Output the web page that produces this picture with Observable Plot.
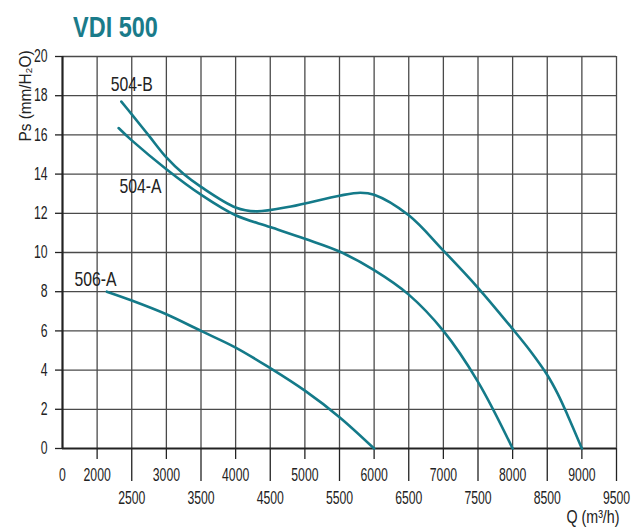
<!DOCTYPE html>
<html>
<head>
<meta charset="utf-8">
<script src="https://cdn.jsdelivr.net/npm/d3@7"></script>
<script src="https://cdn.jsdelivr.net/npm/@observablehq/plot@0.6"></script>
<style>
  body { margin: 0; background: #fff; }
  #wrap { position: relative; width: 631px; height: 529px; overflow: hidden; }
  #title { position: absolute; left: 73px; top: 13px; font-family: "Liberation Sans", Arial, sans-serif; font-weight: bold; font-size: 29px; line-height: 29px; color: #1a7b8a; transform: scaleX(0.81); transform-origin: left top; white-space: nowrap; }
  #chart { position: absolute; left: 0; top: 0; }
</style>
</head>
<body>
<div id="wrap"><div id="chart"></div><div id="title">VDI 500</div></div>
<script>
// Series data (Q in m³/h, Ps in mm H2O)
const q504B = [2350, 2500, 2750, 3000, 3250, 3500, 4000, 4300, 4800, 5500, 5800, 6000, 6500, 7000, 7500, 8000, 8250, 8500, 8650, 8800, 9000];
const p504B = [17.7, 17.05, 15.95, 14.85, 14.0, 13.35, 12.3, 12.1, 12.35, 12.9, 13.05, 12.95, 11.9, 10.1, 8.2, 6.1, 5.0, 3.75, 2.8, 1.65, 0];
const q504A = [2310, 2500, 3000, 3500, 4000, 4500, 5000, 5500, 6000, 6500, 7000, 7500, 8000];
const p504A = [16.35, 15.72, 14.25, 12.95, 11.9, 11.3, 10.7, 10.05, 9.1, 7.85, 6.0, 3.4, 0];
const q506A = [2140, 2500, 3000, 3500, 4000, 4500, 5000, 5500, 6000];
const p506A = [8.0, 7.55, 6.85, 6.0, 5.15, 4.1, 2.95, 1.6, 0];

const seriesNames = ["504-B", "504-A", "506-A"];
const labelQ = [2500, 2625, 1975];
const labelP = [18.57, 13.38, 8.62];

// Axis ticks (the broken-axis origin position is labelled "0")
const axisOrigin = 1500;
const upperTicks = [2000, 3000, 4000, 5000, 6000, 7000, 8000, 9000];
const lowerTicks = [2500, 3500, 4500, 5500, 6500, 7500, 8500, 9500];
const gridQ = [2000, 2500, 3000, 3500, 4000, 4500, 5000, 5500, 6000, 6500, 7000, 7500, 8000, 8500, 9000, 9500];
const yTicks = [0, 2, 4, 6, 8, 10, 12, 14, 16, 18, 20];

const curves = [
  q504B.map((q, i) => ({q, p: p504B[i], s: "504-B"})),
  q504A.map((q, i) => ({q, p: p504A[i], s: "504-A"})),
  q506A.map((q, i) => ({q, p: p506A[i], s: "506-A"}))
].flat();
const labels = seriesNames.map((s, i) => ({s, q: labelQ[i], p: labelP[i]}));

const font = '"Liberation Sans", Arial, sans-serif';
const teal = "#147a89";
const gridColor = "#4a4a4a";
const tickFmt = d => String(d);

const chart = Plot.plot({
  width: 631,
  height: 529,
  marginTop: 56,
  marginBottom: 81,
  marginLeft: 62,
  marginRight: 15,
  style: { fontFamily: font, fontSize: "18px", color: "#222", background: "#fff" },
  x: { domain: [1500, 9500], label: null },
  y: { domain: [0, 20], label: null },
  marks: [
    Plot.gridX(gridQ, { stroke: gridColor, strokeOpacity: 1, strokeWidth: 1.3 }),
    Plot.gridY(yTicks.filter(d => d > 0), { stroke: gridColor, strokeOpacity: 1, strokeWidth: 1.3 }),
    Plot.axisY(yTicks, { tickSize: 7, tickPadding: 8, label: null, stroke: "#222", strokeWidth: 1.3, fontSize: 18, tickFormat: tickFmt }),
    Plot.axisX(upperTicks, { tickSize: 11, tickPadding: 9, label: null, stroke: "#222", strokeWidth: 1.3, fontSize: 18, tickFormat: tickFmt }),
    Plot.axisX([axisOrigin], { tickSize: 0, tickPadding: 20, tickFormat: () => "0", label: null, fontSize: 18 }),
    Plot.axisX(lowerTicks, { tickSize: 33, tickPadding: 9.5, label: null, stroke: "#222", strokeWidth: 1.3, fontSize: 18, tickFormat: tickFmt }),
    Plot.ruleX([axisOrigin], { stroke: "#222", strokeWidth: 2.2 }),
    Plot.ruleY([0], { stroke: "#222", strokeWidth: 2.2 }),
    Plot.line(curves, { x: "q", y: "p", z: "s", curve: "catmull-rom", stroke: teal, strokeWidth: 2.6 }),
    Plot.text(labels, { x: "q", y: "p", text: "s", fontSize: 21, fill: "#222", textAnchor: "middle" }),
    Plot.text(["Ps (mm/H₂O)"], { frameAnchor: "top-left", dx: -44, dy: -6, rotate: -90, textAnchor: "end", fontSize: 17, fill: "#222" }),
    Plot.text(["Q (m³/h)"], { frameAnchor: "bottom-right", dy: 74, dx: 3, textAnchor: "end", fontSize: 19, fill: "#222" })
  ]
});
document.getElementById("chart").appendChild(chart);

// Condense the glyphs horizontally to mimic the reference's narrow typeface
chart.querySelectorAll("text").forEach(t => {
  const g = t.closest("g[aria-label]");
  const label = g ? g.getAttribute("aria-label") : "";
  let factor = 0.75;
  if (/tick label/.test(label)) factor = 0.68;
  if (t.textContent.startsWith("Ps")) factor = 0.9;
  const len = t.getComputedTextLength();
  t.setAttribute("textLength", (len * factor).toFixed(2));
  t.setAttribute("lengthAdjust", "spacingAndGlyphs");
});
</script>
</body>
</html>
